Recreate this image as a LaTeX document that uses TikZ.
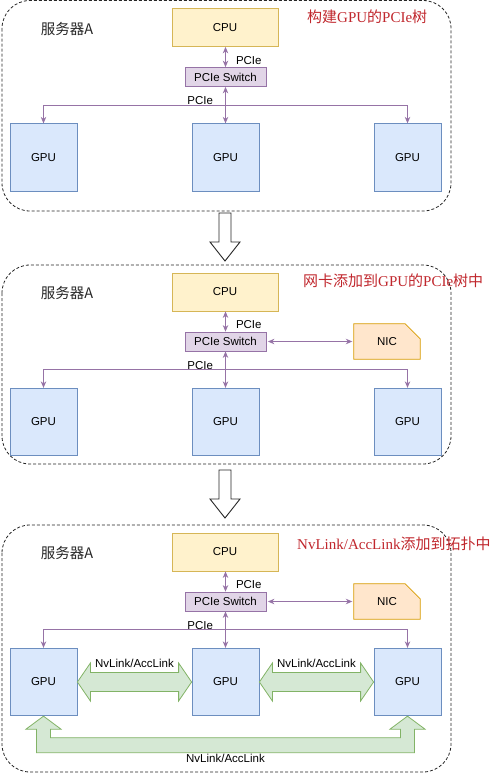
\documentclass[tikz,border=0pt]{standalone}
\usepackage{fontspec}
\setmainfont{Liberation Sans}
\newfontfamily\cjk{Noto Sans CJK SC}
\newfontfamily\titlerm{Liberation Serif}
\usepackage{tikz}
\usetikzlibrary{positioning, calc, arrows.meta}

\definecolor{cpufill}{HTML}{FFF2CC}
\definecolor{cpuline}{HTML}{D6B656}
\definecolor{swfill}{HTML}{E1D5E7}
\definecolor{swline}{HTML}{9673A6}
\definecolor{gpufill}{HTML}{DAE8FC}
\definecolor{gpuline}{HTML}{6C8EBF}
\definecolor{nicfill}{HTML}{FFE6CC}
\definecolor{nicline}{HTML}{D79B00}
\definecolor{nvfill}{HTML}{D5E8D4}
\definecolor{nvline}{HTML}{82B366}
\definecolor{titlered}{HTML}{C0272D}

\tikzset{
	box/.style={draw, line width=0.8pt, inner sep=0pt, font=\fontsize{11.5}{13}\selectfont},
	cpubox/.style={box, fill=cpufill, draw=cpuline, minimum width=106pt, minimum height=38pt},
	swbox/.style={box, fill=swfill, draw=swline, minimum width=81pt, minimum height=19pt},
	gpubox/.style={box, fill=gpufill, draw=gpuline, minimum width=67pt, minimum height=67.5pt},
	nicbox/.style={inner sep=0pt, minimum width=66pt, minimum height=35pt, font=\fontsize{11.5}{13}\selectfont},
	panel/.style={draw=black!85, line width=0.8pt, dash pattern=on 3pt off 2pt, rounded corners=28pt},
	pcie/.style={draw=swline, line width=1pt, {Stealth[length=6.5pt,width=5.5pt]}-{Stealth[length=6.5pt,width=5.5pt]}},
	lbl/.style={inner sep=1pt, font=\fontsize{11.5}{13}\selectfont},
	server/.style={inner sep=0pt, text=black!85, font=\cjk\fontsize{14.5}{16}\selectfont},
	heading/.style={inner sep=0pt, anchor=west, text=titlered, font=\fontsize{15}{17}\selectfont},
	nvlink/.style={draw=nvline, fill=nvfill, line width=0.8pt, line join=miter},
	downarrow/.style={draw=black!85, fill=white, line width=0.9pt}
}

\begin{document}
\begin{tikzpicture}[x=1pt, y=1pt]
	\useasboundingbox (0,0) rectangle (500,-774);
	
	% three copies of server A
	\foreach \name/\ytop/\ybot in {a/-0.5/211, b/264/464, c/524/772}
	{
		\draw[panel] (2,-\ytop-1) rectangle (451,-\ybot);
		\node[server] (srv\name) at (67, -\ytop-29) {服务器A};
		\node[cpubox] (cpu\name) at (225, -\ytop-28) {CPU};
		\node[swbox] (sw\name) at (225.5, -\ytop-77.5) {PCIe Switch};
		\foreach \g/\gx in {L/43.5, M/225.5, R/407.5}
		\node[gpubox] (gpu\name\g) at (\gx, -\ytop-158) {GPU};
		
		\draw[pcie] (sw\name.north) -- (sw\name.north |- cpu\name.south)
			node[lbl, pos=0.33, right=9pt] {PCIe};
		\draw[pcie] (sw\name.south) -- (gpu\name M.north)
			node[lbl, pos=0.38, left=11pt] {PCIe};
		\draw[pcie] (gpu\name L.north) -- ++(0,18) -| (gpu\name R.north);
	}
	
	% headings
	\node[heading] (heada) at (307, -17) {{\cjk 构建}{\titlerm GPU}{\cjk 的}{\titlerm PCIe}{\cjk 树}};
	\node[heading] (headb) at (303, -281) {{\cjk 网卡添加到}{\titlerm GPU}{\cjk 的}{\titlerm PCIe}{\cjk 树中}};
	\node[heading] (headc) at (297, -544) {{\titlerm NvLink/AccLink}{\cjk 添加到拓扑中}};
	
	% NIC
	\foreach \name/\ytop in {b/264, c/524}
	{
		\node[nicbox] (nic\name) at (387, -\ytop-77.5) {};
		\draw[draw=nicline, fill=nicfill, line width=0.8pt] (nic\name.south west) -- (nic\name.north west)
			-- ([xshift=-15pt]nic\name.north east) -- ([yshift=-15pt]nic\name.north east)
			-- (nic\name.south east) -- cycle;
		\node[nicbox] at (nic\name) {NIC};
		\draw[pcie, shorten <=1.5pt, shorten >=1.5pt] (sw\name.east) -- (nic\name.west);
	}
	
	% NvLink between GPUs
	\foreach \a/\b in {L/M, M/R}
	{
		\draw[nvlink] (gpuc\a.east) -- ++(13,19) -- ++(0,-9.5) -- ($(gpuc\b.west)+(-13,9.5)$)
			-- ++(0,9.5) -- (gpuc\b.west) -- ++(-13,-19) -- ++(0,9.5)
			-- ($(gpuc\a.east)+(13,-9.5)$) -- ++(0,-9.5) -- cycle;
		\node[lbl] at ($(gpuc\a.east)!0.5!(gpuc\b.west)+(0,19)$) {NvLink/AccLink};
	}
	\draw[nvlink] (gpucL.south) -- ++(17.5,-13) -- ++(-10.5,0) -- ++(0,-8.5)
		-- ($(gpucR.south)+(-7,-21.5)$) -- ++(0,8.5) -- ++(-10.5,0) -- (gpucR.south)
		-- ++(17.5,-13) -- ++(-10.5,0) -- ++(0,-23.5) -- ($(gpucL.south)+(-7,-36.5)$)
		-- ++(0,23.5) -- ++(-10.5,0) -- cycle;
	\node[lbl] at ($(gpucL.south)!0.5!(gpucR.south)+(0,-42.5)$) {NvLink/AccLink};
	
	% steps
	\foreach \ya in {213, 470}
	\draw[downarrow] (219,-\ya) -- (231,-\ya) -- (231,-\ya-29) -- (240,-\ya-29)
		-- (225,-\ya-48) -- (210,-\ya-29) -- (219,-\ya-29) -- cycle;
\end{tikzpicture}
\end{document}
